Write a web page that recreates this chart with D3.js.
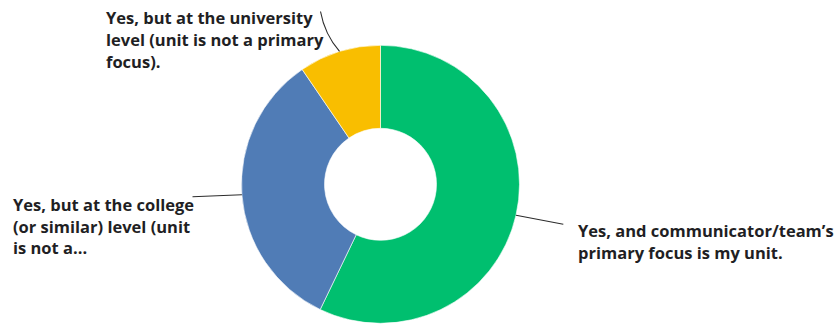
<!DOCTYPE html>
<html>
<head>
<meta charset="utf-8">
<script src="https://cdn.jsdelivr.net/npm/d3@7"></script>
<style>
  html, body { margin: 0; padding: 0; background: #ffffff; }
  svg { display: block; }
  .lbl { font-family: "Open Sans", sans-serif; font-weight: 700; font-size: 16.5px; fill: #1f1f24; }
</style>
</head>
<body>
<svg id="chart" width="837" height="324"></svg>
<script>
// Survey answers, in drawing order (clockwise from 12 o'clock)
const categories = [
  "Yes, and communicator/team’s primary focus is my unit.",
  "Yes, but at the college (or similar) level (unit is not a...",
  "Yes, but at the university level (unit is not a primary focus)."
];
const counts = [12, 7, 2];
const colors = ["#00BF6F", "#507CB6", "#F9BE00"];

// Wrapped label lines for each slice
const labelLines = [
  ["Yes, and communicator/team’s", "primary focus is my unit."],
  ["Yes, but at the college", "(or similar) level (unit", "is not a..."],
  ["Yes, but at the university", "level (unit is not a primary", "focus)."]
];

const W = 837, H = 324;
const cx = 380.5, cy = 184.3;
const outerR = 139, innerR = 56;

const svg = d3.select("#chart");
const g = svg.append("g").attr("transform", `translate(${cx},${cy})`);

const data = categories.map((c, i) => ({ category: c, count: counts[i], color: colors[i], lines: labelLines[i] }));

const pie = d3.pie().sort(null).value(d => d.count).startAngle(0).endAngle(2 * Math.PI);
const arc = d3.arc().innerRadius(innerR).outerRadius(outerR);
const arcs = pie(data);

g.selectAll("path.slice")
  .data(arcs)
  .join("path")
  .attr("class", "slice")
  .attr("d", arc)
  .attr("fill", d => d.data.color)
  .attr("stroke", "#ffffff")
  .attr("stroke-width", 0.6);

// Point on the outer rim at the middle of a slice
function rimPoint(a) {
  const m = (a.startAngle + a.endAngle) / 2;
  return [outerR * Math.sin(m), -outerR * Math.cos(m)];
}

// Label blocks: anchor where the leader line ends, text origin, line spacing
const labelLayout = [
  { end: [563.3, 224.3], x: 578, y: 237, dy: 21.5, bend: 0 },
  { end: [192.5, 196.7], x: 13, y: 211, dy: 21.5, bend: 0 },
  { end: [320.5, 11.5], x: 106, y: 24, dy: 22, bend: 6 }
];

arcs.forEach((a, i) => {
  const p = rimPoint(a);
  const L = labelLayout[i];
  const e = [L.end[0] - cx, L.end[1] - cy];
  let dPath;
  if (L.bend) {
    const mx = (p[0] + e[0]) / 2, my = (p[1] + e[1]) / 2;
    const dx = e[0] - p[0], dy = e[1] - p[1];
    const len = Math.hypot(dx, dy);
    const nx = dy / len, ny = -dx / len;
    dPath = `M${p[0]},${p[1]} Q${mx + nx * L.bend},${my + ny * L.bend} ${e[0]},${e[1]}`;
  } else {
    dPath = `M${p[0]},${p[1]} L${e[0]},${e[1]}`;
  }
  g.append("path")
    .attr("d", dPath)
    .attr("fill", "none")
    .attr("stroke", "#2b2b2b")
    .attr("stroke-width", 1.1);

  const t = svg.append("text").attr("class", "lbl");
  a.data.lines.forEach((line, j) => {
    t.append("tspan").attr("x", L.x).attr("y", L.y + j * L.dy).text(line);
  });
});
</script>
</body>
</html>
